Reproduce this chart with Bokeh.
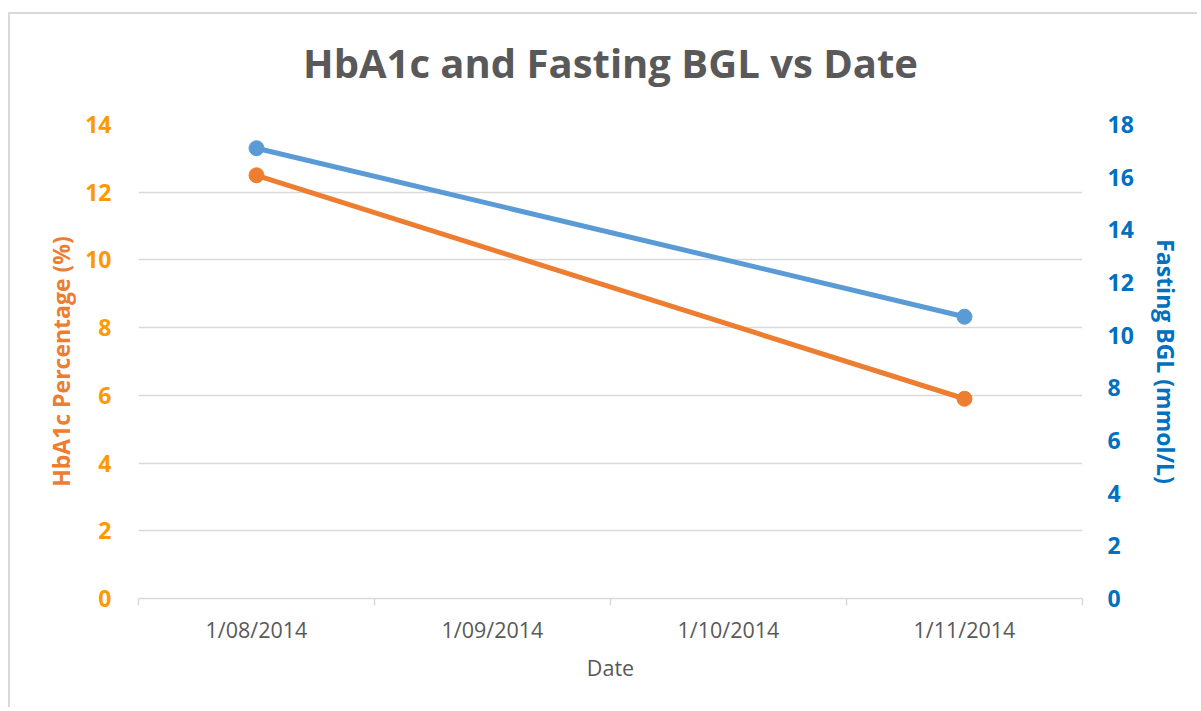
from bokeh.plotting import figure
from bokeh.models import LinearAxis, Range1d, FixedTicker, ColumnDataSource, Title
from bokeh.embed import file_html
from bokeh.resources import INLINE

# ---- data ----
dates = ["1/08/2014", "1/09/2014", "1/10/2014", "1/11/2014"]
hba1c = [12.5, None, None, 5.9]          # %
bgl = [17.1, None, None, 10.7]           # mmol/L
left_ticks = [0, 2, 4, 6, 8, 10, 12, 14]
right_ticks = [0, 2, 4, 6, 8, 10, 12, 14, 16, 18]

FONT = "Open Sans"
ORANGE_LINE = "#ED7D31"
ORANGE_TICK = "#FF9900"
BLUE_LINE = "#5B9BD5"
BLUE_TEXT = "#0070C0"
GRAY = "#595959"
GRID = "#d9d9d9"

pos = [i + 0.5 for i in range(len(dates))]
h_x = [x for x, v in zip(pos, hba1c) if v is not None]
h_y = [v for v in hba1c if v is not None]
b_x = [x for x, v in zip(pos, bgl) if v is not None]
b_y = [v for v in bgl if v is not None]

main_title = Title(text="HbA1c and Fasting BGL vs Date", text_font=FONT,
                   text_font_size="40px", text_font_style="bold", text_color=GRAY,
                   align="center", standoff=0)
p = figure(width=1189, height=695, output_backend="svg", toolbar_location=None,
           x_range=Range1d(0, len(dates)), y_range=Range1d(left_ticks[0], left_ticks[-1]),
           min_border_left=128, min_border_right=117, min_border_top=110, min_border_bottom=111,
           title=main_title)
p.styles = {"margin-left": "8px", "margin-top": "12px",
            "border-left": "2px solid #d9d9d9", "border-top": "2px solid #d9d9d9"}
p.extra_y_ranges = {"bgl": Range1d(right_ticks[0], right_ticks[-1])}
p.outline_line_color = None
p.background_fill_color = "white"
p.border_fill_color = "white"

# spacer between the title and the plot area
p.add_layout(Title(text=" ", text_font_size="1px", standoff=32), "above")

# x axis
xa = p.xaxis[0]
xa.ticker = FixedTicker(ticks=pos, minor_ticks=list(range(len(dates) + 1)))
xa.major_label_overrides = {x: d for x, d in zip(pos, dates)}
xa.major_tick_out = 0
xa.major_tick_in = 0
xa.minor_tick_out = 7
xa.minor_tick_in = 0
xa.minor_tick_line_color = GRID
xa.minor_tick_line_width = 1.5
xa.axis_line_color = GRID
xa.axis_line_width = 1.5
xa.major_label_text_font = FONT
xa.major_label_text_font_size = "21.5px"
xa.major_label_text_color = GRAY
xa.major_label_standoff = 9
xa.axis_label = "Date"
xa.axis_label_text_font = FONT
xa.axis_label_text_font_size = "21.5px"
xa.axis_label_text_font_style = "normal"
xa.axis_label_text_color = GRAY
xa.axis_label_standoff = 6
p.xgrid.visible = False

# left axis
ya = p.yaxis[0]
ya.ticker = FixedTicker(ticks=left_ticks)
ya.axis_line_color = None
ya.major_tick_line_color = None
ya.minor_tick_line_color = None
ya.major_label_text_font = FONT
ya.major_label_text_font_size = "23px"
ya.major_label_text_font_style = "bold"
ya.major_label_text_color = ORANGE_TICK
ya.major_label_standoff = 21
ya.axis_label = "HbA1c Percentage (%)"
ya.axis_label_text_font = FONT
ya.axis_label_text_font_size = "23px"
ya.axis_label_text_font_style = "bold"
ya.axis_label_text_color = ORANGE_LINE
ya.axis_label_standoff = 5
p.ygrid.grid_line_color = GRID
p.ygrid.grid_line_width = 1.5
p.ygrid.ticker = FixedTicker(ticks=left_ticks)

# right axis
ra = LinearAxis(y_range_name="bgl", ticker=FixedTicker(ticks=right_ticks))
ra.axis_line_color = None
ra.major_tick_line_color = None
ra.minor_tick_line_color = None
ra.major_label_text_font = FONT
ra.major_label_text_font_size = "23px"
ra.major_label_text_font_style = "bold"
ra.major_label_text_color = BLUE_TEXT
ra.major_label_standoff = 19
ra.axis_label = "Fasting BGL (mmol/L)"
ra.axis_label_text_font = FONT
ra.axis_label_text_font_size = "23px"
ra.axis_label_text_font_style = "bold"
ra.axis_label_text_color = BLUE_TEXT
ra.axis_label_standoff = 13
p.add_layout(ra, "right")

# series
hs = ColumnDataSource(dict(x=h_x, y=h_y))
bs = ColumnDataSource(dict(x=b_x, y=b_y))
p.line("x", "y", source=hs, line_color=ORANGE_LINE, line_width=5)
p.scatter("x", "y", source=hs, size=15, fill_color=ORANGE_LINE, line_color=ORANGE_LINE)
p.line("x", "y", source=bs, line_color=BLUE_LINE, line_width=5, y_range_name="bgl")
p.scatter("x", "y", source=bs, size=15, fill_color=BLUE_LINE, line_color=BLUE_LINE, y_range_name="bgl")

open("out.html", "w").write(file_html(p, INLINE))
